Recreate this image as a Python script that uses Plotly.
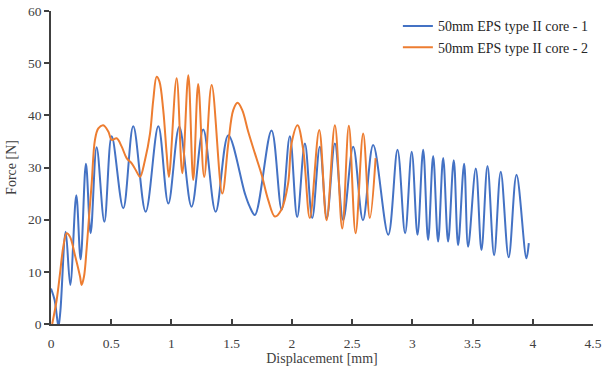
import plotly.graph_objects as go

# Series 1: 50mm EPS type II core - 1 (blue)
disp_1 = [0.0, 0.03, 0.045, 0.062, 0.078, 0.122, 0.16, 0.21, 0.246, 0.29, 0.329,
          0.379, 0.443, 0.504, 0.60, 0.683, 0.786, 0.891, 0.974, 1.065, 1.167,
          1.264, 1.367, 1.472, 1.61, 1.65, 1.693, 1.831, 1.915, 1.983, 2.044,
          2.108, 2.169, 2.232, 2.29, 2.357, 2.426, 2.509, 2.59, 2.675, 2.80,
          2.877, 2.94, 2.995, 3.043, 3.09, 3.131, 3.173, 3.214, 3.256, 3.297,
          3.344, 3.38, 3.43, 3.463, 3.527, 3.574, 3.624, 3.679, 3.734, 3.80,
          3.865, 3.947, 3.967]
force_1 = [6.8, 4.6, 2.2, -0.5, 2.5, 17.7, 7.5, 24.7, 12.4, 30.7, 17.4,
           33.9, 19.6, 36.0, 22.2, 37.9, 21.5, 37.9, 23.1, 37.8, 22.5,
           37.3, 21.5, 36.2, 25.0, 22.5, 20.9, 37.1, 21.9, 36.0, 20.5,
           34.6, 20.3, 34.0, 20.3, 34.6, 19.9, 34.0, 19.9, 34.3, 17.1,
           33.4, 17.4, 33.0, 17.1, 33.4, 16.1, 32.2, 15.8, 31.8, 15.8,
           31.4, 15.1, 30.7, 14.8, 29.8, 14.2, 30.3, 13.2, 29.2, 12.8,
           28.6, 12.6, 15.5]

# Series 2: 50mm EPS type II core - 2 (orange)
disp_2 = [0.01, 0.047, 0.075, 0.102, 0.13, 0.158, 0.199, 0.241, 0.254, 0.274,
          0.296, 0.318, 0.338, 0.365, 0.393, 0.434, 0.476, 0.504, 0.545, 0.587,
          0.628, 0.67, 0.711, 0.739, 0.78, 0.822, 0.849, 0.877, 0.90, 0.932,
          0.96, 0.979, 1.043, 1.09, 1.14, 1.181, 1.222, 1.272, 1.334, 1.422,
          1.472, 1.513, 1.549, 1.588, 1.637, 1.693, 1.749, 1.803, 1.859, 1.915,
          1.969, 1.997, 2.047, 2.094, 2.149, 2.227, 2.288, 2.357, 2.418, 2.473,
          2.529, 2.592, 2.647, 2.695]
force_2 = [0.0, 4.6, 9.7, 14.8, 17.4, 16.7, 13.2, 9.1, 7.5, 9.1,
           14.5, 21.2, 27.0, 35.3, 37.5, 38.1, 36.9, 35.3, 35.6, 34.0,
           31.8, 30.8, 29.2, 28.2, 31.4, 36.5, 42.9, 47.4, 46.5, 41.0,
           32.7, 28.2, 47.1, 28.9, 47.7, 27.6, 46.0, 28.2, 45.8, 25.0,
           34.6, 41.0, 42.4, 41.0, 36.9, 32.7, 28.6, 23.8, 20.6, 22.0,
           27.0, 34.6, 38.1, 33.4, 20.3, 37.2, 19.9, 38.1, 18.3, 38.0,
           17.4, 36.5, 20.3, 31.8]

x_ticks = [0, 0.5, 1, 1.5, 2, 2.5, 3, 3.5, 4, 4.5]
y_ticks = [0, 10, 20, 30, 40, 50, 60]

FONT = "Liberation Serif, Times New Roman, serif"
AX = "#404040"

fig = go.Figure()
fig.add_trace(go.Scatter(x=disp_1, y=force_1, mode="lines",
                         name="50mm EPS type II core - 1",
                         line=dict(color="#4472C4", width=2, shape="spline", smoothing=1)))
fig.add_trace(go.Scatter(x=disp_2, y=force_2, mode="lines",
                         name="50mm EPS type II core - 2",
                         line=dict(color="#ED7D31", width=2, shape="spline", smoothing=1)))

fig.update_layout(
    width=602, height=372,
    margin=dict(l=51, r=9, t=11, b=48, autoexpand=False),
    paper_bgcolor="white", plot_bgcolor="white",
    font=dict(family=FONT, size=13.5, color=AX),
    legend=dict(x=0.64, y=1.002, xanchor="left", yanchor="top",
                bgcolor="rgba(0,0,0,0)", font=dict(family=FONT, size=14, color="#262626")),
    xaxis=dict(range=[0, 4.5], tickvals=x_ticks, ticktext=[f"{v:g}" for v in x_ticks],
               showgrid=False, zeroline=False, showline=True, linecolor=AX, linewidth=1.5,
               ticks="inside", ticklen=5, tickcolor=AX, tickwidth=1.5,
               ticklabelstandoff=6, automargin=True, ticklabeloverflow="allow",
               title=dict(text="Displacement [mm]", font=dict(family=FONT, size=14, color=AX), standoff=3)),
    yaxis=dict(range=[0, 60], tickvals=y_ticks, automargin=True, ticklabeloverflow="allow",
               showgrid=False, zeroline=False, showline=True, linecolor=AX, linewidth=1.5,
               ticks="outside", ticklen=5, tickcolor=AX, tickwidth=1.5,
               title=dict(text="Force [N]", font=dict(family=FONT, size=14, color=AX), standoff=8)),
)

# remove the browser's default 8px body margin so the figure fills the window exactly
fig.write_html("out.html",
               config={"displayModeBar": False},
               post_script="document.body.style.margin='0';document.body.style.overflow='hidden';")
